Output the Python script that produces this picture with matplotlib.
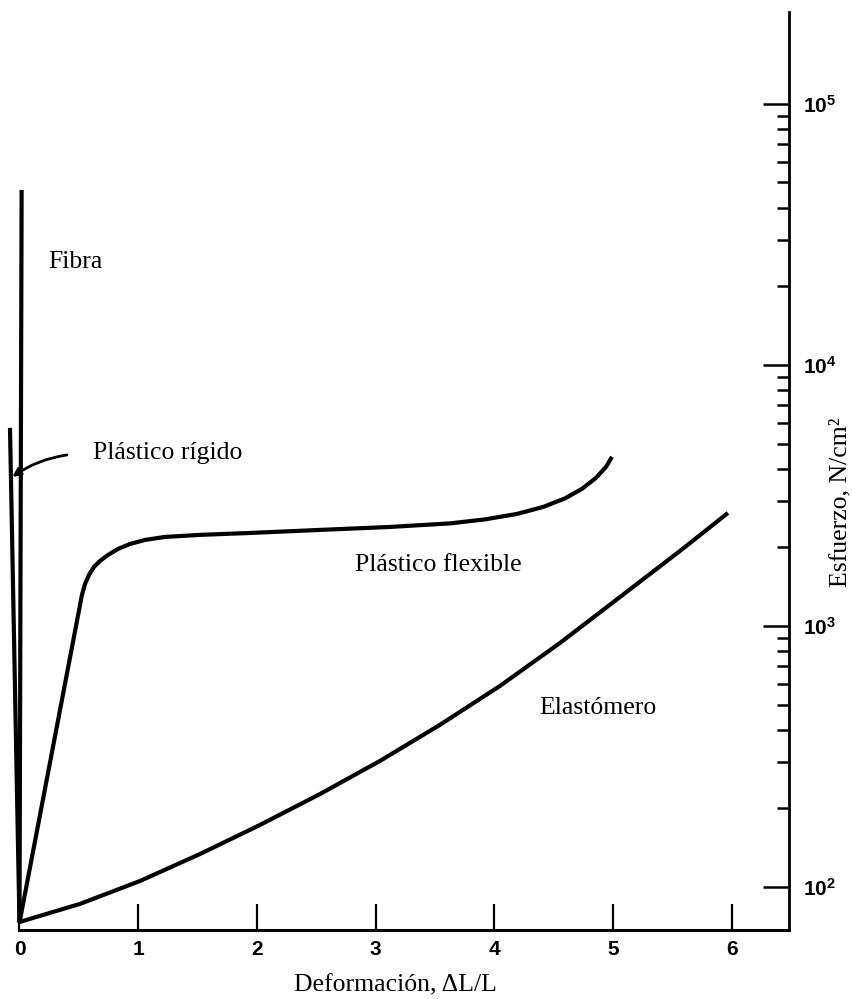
import numpy as np
import matplotlib
matplotlib.use("Agg")
import matplotlib.pyplot as plt
from matplotlib.ticker import FixedLocator, NullFormatter

plt.rcParams['mathtext.fontset'] = 'custom'
plt.rcParams['mathtext.rm'] = 'Liberation Sans:bold'
plt.rcParams['mathtext.it'] = 'Liberation Sans:bold'

# curves (strain, stress in N/cm2)
fibra_x = [0.0, 0.018]
fibra_y = [73, 46800]

rigido_x = [0.0, -0.08]
rigido_y = [73, 5740]

flexible_x = [0.0, 0.526, 0.552, 0.585, 0.627, 0.678, 0.745, 0.829, 0.931, 1.058, 1.225, 1.520,
              1.941, 2.531, 3.120, 3.625, 3.920, 4.189, 4.408, 4.594, 4.737, 4.855, 4.939, 4.989]
flexible_y = [73, 1315, 1449, 1568, 1683, 1774, 1870, 1972, 2061, 2136, 2193, 2233,
              2271, 2333, 2395, 2471, 2560, 2686, 2855, 3081, 3352, 3692, 4067, 4446]

elast_x = [0.0, 0.509, 1.015, 1.520, 2.025, 2.531, 3.036, 3.541, 4.046, 4.552, 5.057, 5.562, 5.966]
elast_y = [73.4, 86.1, 105.4, 133.7, 172.8, 227, 304, 418, 589, 861, 1291, 1938, 2710]

xticks = [0, 1, 2, 3, 4, 5, 6]
yticks = [1e2, 1e3, 1e4, 1e5]
ytick_labels = ['$10^{2}$', '$10^{3}$', '$10^{4}$', '$10^{5}$']

W, H = 853, 999
fig = plt.figure(figsize=(W/100, H/100), dpi=100)
ax = fig.add_axes([5/W, (H-930)/H, (789-5)/W, (930-12)/H])

lw = 3.0
for xs, ys in [(fibra_x, fibra_y), (rigido_x, rigido_y), (flexible_x, flexible_y), (elast_x, elast_y)]:
    ax.plot(xs, ys, color='black', lw=lw, solid_capstyle='butt', solid_joinstyle='round')

ax.set_yscale('log')
ax.set_xlim(-0.122, 6.48)
ax.set_ylim(68.4, 2.25e5)

ax.spines['left'].set_visible(False)
ax.spines['top'].set_visible(False)
ax.spines['right'].set_linewidth(2.0)
ax.spines['bottom'].set_linewidth(2.2)
ax.spines['bottom'].set_bounds(0, 6.48)

ax.set_xticks(xticks)
ax.set_xticklabels([str(t) for t in xticks], fontfamily='Liberation Sans', fontweight='bold', fontsize=15)
ax.tick_params(axis='x', direction='in', length=19, width=1.6, pad=7)

ax.yaxis.tick_right()
ax.yaxis.set_major_locator(FixedLocator(yticks))
ax.set_yticklabels(ytick_labels, fontsize=15)
minors = [m * 10**e for e in (2, 3, 4) for m in range(2, 10)]
ax.yaxis.set_minor_locator(FixedLocator(minors))
ax.yaxis.set_minor_formatter(NullFormatter())
ax.tick_params(axis='y', which='major', direction='in', length=19, width=1.8, pad=10)
ax.tick_params(axis='y', which='minor', direction='in', length=8.5, width=1.8)

serif = 'Liberation Serif'
fs = 18.5
ax.text(0.24, 24800, 'Fibra', fontfamily=serif, fontsize=fs, va='center')
ax.text(0.62, 4600, 'Plástico rígido', fontfamily=serif, fontsize=fs, va='center')
ax.text(2.825, 1714, 'Plástico flexible', fontfamily=serif, fontsize=fs, va='center')
ax.text(4.38, 485, 'Elastómero', fontfamily=serif, fontsize=fs, va='center')

ax.annotate('', xy=(-0.06, 3725), xytext=(0.40, 4520),
            arrowprops=dict(arrowstyle='-|>', connectionstyle='arc3,rad=0.12', lw=2.0, color='black',
                            mutation_scale=12, shrinkA=0, shrinkB=0))

fig.text(395/W, 1 - 985/H, 'Deformación, ΔL/L', fontfamily=serif, fontsize=fs, ha='center', va='center')
fig.text(840/W, 1 - 502/H, 'Esfuerzo, N/cm²', fontfamily=serif, fontsize=fs, ha='center', va='center', rotation=90)

fig.savefig('out.png', dpi=100)
